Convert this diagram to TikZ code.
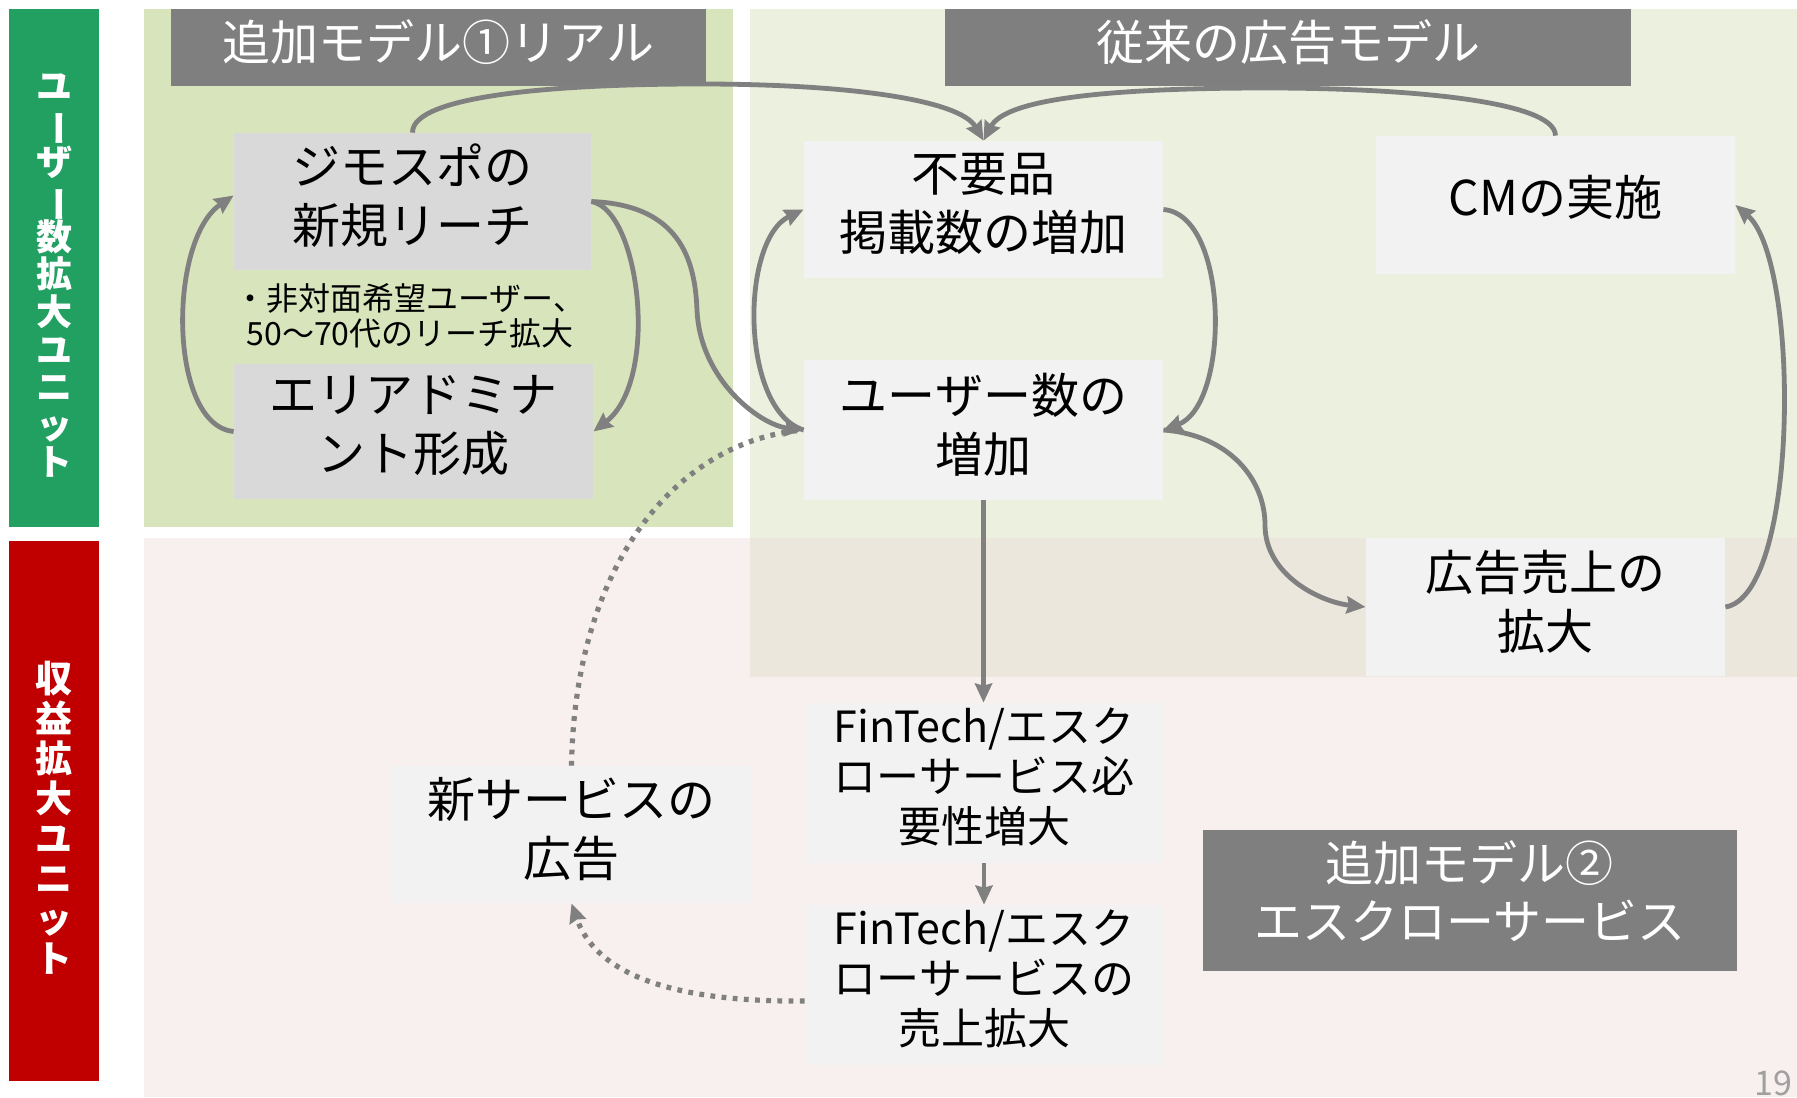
\documentclass[tikz,border=0pt]{standalone}
\usepackage{fontspec}
\usepackage{graphicx}
\setmainfont{Noto Sans CJK JP}
\usetikzlibrary{arrows.meta}
\definecolor{gbar}{HTML}{21A062}
\definecolor{rbar}{HTML}{C00000}
\definecolor{greenreg}{HTML}{D8E4BC}
\definecolor{lightreg}{HTML}{EBF0DF}
\definecolor{pinkreg}{HTML}{F8F0EE}
\definecolor{overreg}{HTML}{EBE7DC}
\definecolor{titlegray}{HTML}{7F7F7F}
\definecolor{arrowgray}{HTML}{808080}
\definecolor{boxdark}{HTML}{D9D9D9}
\definecolor{boxlight}{HTML}{F2F2F2}
\definecolor{pagegray}{HTML}{A0A0A0}
\newcommand{\vbar}{\smash{\rotatebox[origin=c]{-90}{ー}}}
\begin{document}
\begin{tikzpicture}[x=0.5pt,y=-0.5pt,
  conn/.style={draw=arrowgray, line width=2.4pt, -{Stealth[length=9.5pt,width=8.5pt,inset=1pt]}},
  dotline/.style={draw=arrowgray, line width=2.6pt, dash pattern=on 2.4pt off 3.2pt},
  dotconn/.style={dotline, -{Stealth[length=9.5pt,width=8.5pt,inset=1pt]}},
  boxbase/.style={inner sep=0pt, align=center, text=black, text depth=7.6pt, font=\fontsize{24}{29.5}\selectfont},
  darkbox/.style={boxbase, fill=boxdark},
  lightbox/.style={boxbase, fill=boxlight},
  titlebox/.style={inner sep=0pt, align=center, fill=titlegray, text=white, text depth=7.6pt, font=\fontsize{24}{29}\selectfont},
  finbox/.style={lightbox, font=\fontsize{21.5}{25}\selectfont},
  sidetext/.style={text=white, align=center, inner sep=0pt}
]
\useasboundingbox (0,0) rectangle (1797,1097);
\fill[white] (0,0) rectangle (1797,1097);
% regions
\fill[pinkreg] (144,538) rectangle (1797,1097);
\fill[greenreg] (144,9) rectangle (733,527);
\fill[lightreg] (750,9) rectangle (1797,538);
\fill[overreg] (750,538) rectangle (1797,677);
% side bars
\fill[gbar] (9,9) rectangle (99,527);
\fill[rbar] (9,541) rectangle (99,1081);
\node[sidetext, font=\bfseries\fontsize{18}{18.8}\selectfont] (unitA) at (54,276)
  {ユ\\\vbar\\ザ\\\vbar\\数\\拡\\大\\ユ\\ニ\\ッ\\ト};
\node[sidetext, font=\bfseries\fontsize{18.5}{20}\selectfont] (unitB) at (54,818)
  {収\\益\\拡\\大\\ユ\\ニ\\ッ\\ト};
% title boxes
\node[titlebox, minimum width=267.5pt, minimum height=38.5pt] (t1) at (438.5,47.5) {追加モデル①リアル};
\node[titlebox, minimum width=343pt, minimum height=38.5pt] (t2) at (1288,47.5) {従来の広告モデル};
% boxes
\node[darkbox, minimum width=178.5pt, minimum height=68.5pt] (jimo) at (412.5,201.5) {ジモスポの\\新規リーチ};
\node[darkbox, minimum width=179.5pt, minimum height=67.5pt] (area) at (413.5,431.5) {エリアドミナ\\ント形成};
\node[inner sep=0pt, align=center, font=\fontsize{16}{17.5}\selectfont] (note) at (410,316) {・非対面希望ユーザー、\\50～70代のリーチ拡大};
\node[lightbox, minimum width=179.5pt, minimum height=68.5pt] (fuyo) at (983.5,209.5) {不要品\\掲載数の増加};
\node[lightbox, text depth=10pt, minimum width=179.5pt, minimum height=69pt] (cm) at (1555.5,205) {CMの実施};
\node[lightbox, minimum width=179.5pt, minimum height=70pt] (user) at (983.5,430) {ユーザー数の\\増加};
\node[lightbox, minimum width=179.5pt, minimum height=69pt] (ad) at (1545.5,607) {広告売上の\\拡大};
\node[finbox, minimum width=179pt, minimum height=80pt] (fin1) at (984,783) {FinTech/エスク\\ローサービス必\\要性増大};
\node[finbox, minimum width=179pt, minimum height=80pt] (fin2) at (984,985) {FinTech/エスク\\ローサービスの\\売上拡大};
\node[lightbox, minimum width=179.5pt, minimum height=68.5pt] (newsvc) at (571.5,834.5) {新サービスの\\広告};
\node[titlebox, text depth=10.5pt, minimum width=267pt, minimum height=70.5pt] (model2) at (1469.5,900.5) {追加モデル②\\エスクローサービス};
\node[text=pagegray, inner sep=0pt, anchor=west, font=\fontsize{17}{20}\selectfont] (page) at (1754,1083) {19};
% connectors
\draw[conn] (jimo.north) .. controls (412,95) and (560,84) .. (700,84) .. controls (850,84) and (960,100) .. (fuyo.north);
\draw[conn] (cm.north) .. controls (1555,100) and (1400,88) .. (1267,88) .. controls (1100,88) and (1005,100) .. (fuyo.north);
\draw[conn] (jimo.east) .. controls (640,210) and (660,380) .. (area.east);
\draw[conn] (area.west) .. controls (168,425) and (168,240) .. ([yshift=3pt]jimo.west);
\draw[conn] (jimo.east) .. controls (680,205) and (695,260) .. (697,310) .. controls (700,380) and (760,425) .. (user.west);
\draw[conn] (user.west) .. controls (740,410) and (740,240) .. (fuyo.west);
\draw[conn] (fuyo.east) .. controls (1230,215) and (1230,405) .. (user.east);
\draw[conn] (user.east) .. controls (1230,435) and (1265,480) .. (1265,525) .. controls (1265,575) and (1320,602) .. (ad.west);
\draw[conn] (ad.east) .. controls (1800,595) and (1800,260) .. (cm.east);
\draw[conn] (user.south) -- (user.south |- fin1.north);
\draw[conn] (fin1.south) -- (fin1.south |- fin2.north);
\draw[dotconn] ([yshift=-8pt]fin2.west) .. controls (700,1002) and (600,985) .. (newsvc.south);
\draw[dotline] (newsvc.north) .. controls (575,560) and (680,440) .. (user.west);
\end{tikzpicture}
\end{document}
